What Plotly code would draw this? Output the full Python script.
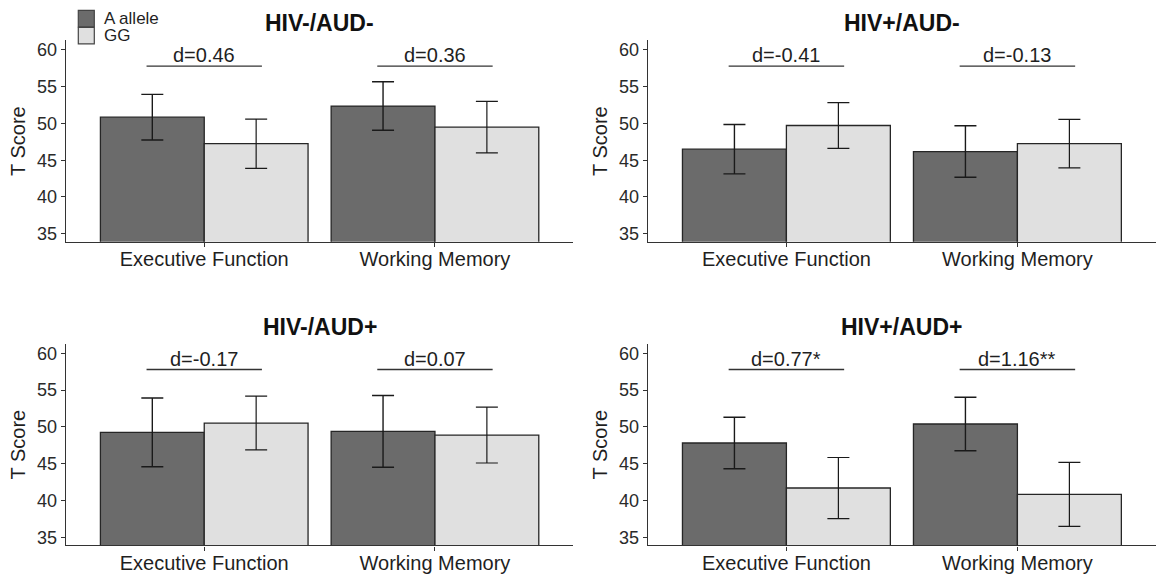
import plotly.graph_objects as go
from plotly.subplots import make_subplots

# ---------------- data ----------------
categories = ["Executive Function", "Working Memory"]
panel_titles = ["HIV-/AUD-", "HIV+/AUD-", "HIV-/AUD+", "HIV+/AUD+"]
groups = ["A allele", "GG"]

a_allele_means = [[50.85, 52.37], [46.50, 46.18], [49.27, 49.40], [47.82, 50.40]]
a_allele_err = [[3.10, 3.30], [3.35, 3.50], [4.67, 4.87], [3.50, 3.63]]
gg_means = [[47.25, 49.50], [49.72, 47.25], [50.53, 48.90], [41.70, 40.84]]
gg_err = [[3.35, 3.50], [3.10, 3.30], [3.65, 3.80], [4.15, 4.35]]
d_labels = [["d=0.46", "d=0.36"], ["d=-0.41", "d=-0.13"],
            ["d=-0.17", "d=0.07"], ["d=0.77*", "d=1.16**"]]
bracket_y = 57.8
y_ticks = [35, 40, 45, 50, 55, 60]
y_range = [33.9, 61.3]

# ---------------- style ----------------
W, H = 1158, 578
DARK = "#6b6b6b"
LIGHT = "#e0e0e0"
EDGE = "#262626"
TXT = "#1f1f1f"
AX = "#333333"
FONT = "Liberation Sans, Arial, sans-serif"

# panel pixel boxes: (x0, x1, ytop, ybottom)
boxes = [(65.8, 573.4, 40.5, 242.7), (647.8, 1156.0, 40.5, 242.7),
         (65.8, 573.4, 345.0, 547.3), (647.8, 1156.0, 345.0, 547.3)]
title_y_px = [23.3, 23.3, 328.3, 328.3]

fig = make_subplots(rows=2, cols=2)

for p in range(4):
    r, c = p // 2 + 1, p % 2 + 1
    fig.add_trace(go.Bar(
        x=categories, y=a_allele_means[p], name=groups[0],
        marker=dict(color=DARK, line=dict(color=EDGE, width=1.3)),
        error_y=dict(type="data", array=a_allele_err[p], color="#1a1a1a",
                     thickness=1.4, width=11),
        showlegend=False), row=r, col=c)
    fig.add_trace(go.Bar(
        x=categories, y=gg_means[p], name=groups[1],
        marker=dict(color=LIGHT, line=dict(color=EDGE, width=1.3)),
        error_y=dict(type="data", array=gg_err[p], color="#1a1a1a",
                     thickness=1.2, width=11),
        showlegend=False), row=r, col=c)

    x0, x1, yt, yb = boxes[p]
    xa = "xaxis" if p == 0 else f"xaxis{p+1}"
    ya = "yaxis" if p == 0 else f"yaxis{p+1}"
    xref = "x" if p == 0 else f"x{p+1}"
    yref = "y" if p == 0 else f"y{p+1}"
    fig.layout[xa].update(domain=[x0 / W, x1 / W])
    fig.layout[ya].update(domain=[1 - yb / H, 1 - yt / H])

    # d brackets and labels
    for i, cat in enumerate(categories):
        fig.add_shape(type="line", xref=xref, yref=yref,
                      x0=i - 0.25, x1=i + 0.25, y0=bracket_y, y1=bracket_y,
                      line=dict(color=AX, width=1.4))
        fig.add_annotation(x=cat, y=bracket_y, xref=xref, yref=yref,
                           text=d_labels[p][i], showarrow=False,
                           yanchor="bottom", yshift=-2,
                           font=dict(size=20, color=TXT, family=FONT))

    fig.add_annotation(x=(x0 + x1) / 2 / W, y=1 - title_y_px[p] / H,
                       xref="paper", yref="paper", text=f"<b>{panel_titles[p]}</b>",
                       showarrow=False, xanchor="center", yanchor="middle",
                       font=dict(size=23, color="#111111", family=FONT))

# manual legend (keys + labels) in the top-left corner
legend_colors = [DARK, LIGHT]
key_x0, key_x1 = 78.3, 94.3
key_rows = [(10.5, 27.0), (27.5, 44.0)]
for g, (ky0, ky1) in enumerate(key_rows):
    fig.add_shape(type="rect", xref="paper", yref="paper",
                  x0=key_x0 / W, x1=key_x1 / W, y0=1 - ky1 / H, y1=1 - ky0 / H,
                  fillcolor=legend_colors[g], line=dict(color="#444444", width=1.2))
    fig.add_annotation(x=102.0 / W, y=1 - (ky0 + ky1) / 2 / H, xref="paper", yref="paper",
                       text=groups[g], showarrow=False, xanchor="left", yanchor="middle",
                       font=dict(size=17, color=TXT, family=FONT))

fig.update_xaxes(type="category", categoryorder="array", categoryarray=categories,
                 range=[-0.6, 1.6], showline=True, linecolor=AX, linewidth=1.3,
                 ticks="outside", ticklen=4, tickcolor=AX, tickwidth=1.2,
                 showgrid=False, zeroline=False, ticklabelstandoff=-5,
                 tickfont=dict(size=20, color=TXT, family=FONT))
fig.update_yaxes(range=y_range, tickvals=y_ticks, showline=True, linecolor=AX,
                 linewidth=1.3, ticks="outside", ticklen=4, tickcolor=AX,
                 tickwidth=1.2, showgrid=False, zeroline=False,
                 tickfont=dict(size=18, color="#2a2a2a", family=FONT),
                 title=dict(text="T Score", standoff=6,
                            font=dict(size=20, color=TXT, family=FONT)))

fig.update_layout(
    width=W, height=H, margin=dict(l=0, r=0, t=0, b=0),
    paper_bgcolor="white", plot_bgcolor="white",
    barmode="group", bargap=0.1, bargroupgap=0,
    font=dict(family=FONT, color=TXT),
    showlegend=False,
)

fig.write_html("out.html", config={"displayModeBar": False},
               post_script="document.body.style.margin='0px';")
